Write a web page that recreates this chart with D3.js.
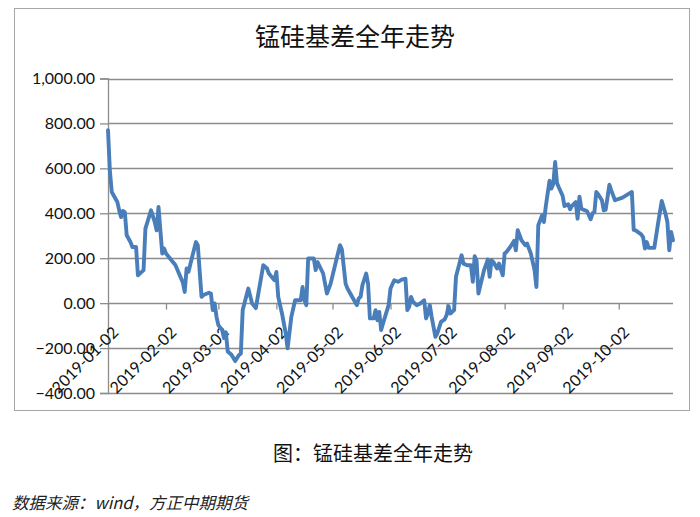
<!DOCTYPE html>
<html>
<head>
<meta charset="utf-8">
<script src="https://cdn.jsdelivr.net/npm/d3@7"></script>
<style>
  html, body { margin: 0; padding: 0; background: #fff; }
  svg { display: block; }
</style>
</head>
<body>
<svg id="chart" width="700" height="517"></svg>
<script>
// ---- data ----
const dates = [
  "2019-01-02","2019-01-03","2019-01-04","2019-01-07","2019-01-08","2019-01-09","2019-01-10","2019-01-11","2019-01-12","2019-01-14",
  "2019-01-15","2019-01-17","2019-01-18","2019-01-20","2019-01-21","2019-01-22","2019-01-25","2019-01-27","2019-01-28","2019-01-29",
  "2019-01-30","2019-01-31","2019-02-01","2019-02-02","2019-02-07","2019-02-11","2019-02-12","2019-02-13","2019-02-14","2019-02-16",
  "2019-02-18","2019-02-19","2019-02-21","2019-02-22","2019-02-25","2019-02-26","2019-02-27","2019-02-28","2019-03-01","2019-03-02",
  "2019-03-04","2019-03-05","2019-03-06","2019-03-07","2019-03-09","2019-03-11","2019-03-13","2019-03-14","2019-03-15","2019-03-18",
  "2019-03-20","2019-03-22","2019-03-26","2019-03-28","2019-03-29","2019-04-01","2019-04-02","2019-04-03","2019-04-05","2019-04-07",
  "2019-04-08","2019-04-10","2019-04-12","2019-04-15","2019-04-16","2019-04-17","2019-04-18","2019-04-19","2019-04-22","2019-04-23",
  "2019-04-24","2019-04-27","2019-04-29","2019-05-01","2019-05-04","2019-05-06","2019-05-07","2019-05-09","2019-05-10","2019-05-13",
  "2019-05-15","2019-05-16","2019-05-17","2019-05-18","2019-05-20","2019-05-21","2019-05-22","2019-05-24","2019-05-25","2019-05-26",
  "2019-05-27","2019-05-28","2019-05-29","2019-06-01","2019-06-02","2019-06-04","2019-06-06","2019-06-08","2019-06-10","2019-06-11",
  "2019-06-12","2019-06-13","2019-06-14","2019-06-16","2019-06-18","2019-06-20","2019-06-21","2019-06-22","2019-06-23","2019-06-24",
  "2019-06-26","2019-06-27","2019-06-29","2019-07-01","2019-07-02","2019-07-03","2019-07-04","2019-07-06","2019-07-07","2019-07-10",
  "2019-07-11","2019-07-13","2019-07-15","2019-07-16","2019-07-17","2019-07-18","2019-07-19","2019-07-22","2019-07-24","2019-07-25",
  "2019-07-26","2019-07-27","2019-07-29","2019-07-30","2019-08-01","2019-08-02","2019-08-03","2019-08-05","2019-08-07","2019-08-08",
  "2019-08-09","2019-08-11","2019-08-13","2019-08-14","2019-08-16","2019-08-18","2019-08-19","2019-08-20","2019-08-22","2019-08-23",
  "2019-08-24","2019-08-26","2019-08-27","2019-08-28","2019-08-29","2019-08-30","2019-08-31","2019-09-02","2019-09-03","2019-09-05",
  "2019-09-06","2019-09-07","2019-09-09","2019-09-10","2019-09-11","2019-09-12","2019-09-13","2019-09-15","2019-09-17","2019-09-18",
  "2019-09-19","2019-09-20","2019-09-21","2019-09-23","2019-09-24","2019-09-25","2019-09-27","2019-09-28","2019-09-30","2019-10-04",
  "2019-10-09","2019-10-10","2019-10-11","2019-10-14","2019-10-15","2019-10-16","2019-10-17","2019-10-18","2019-10-21","2019-10-23",
  "2019-10-25","2019-10-27","2019-10-28","2019-10-29","2019-10-30","2019-10-31"
];
const basis = [
  770,590,495,450,413,383,410,405,302,272,
  250,250,124,139,147,332,413,361,324,428,
  324,221,243,221,170,92,50,154,139,206,
  272,258,28,36,46,43,-31,-1,-61,-98,
  -120,-155,-130,-215,-230,-258,-231,-225,-31,65,
  -1,-22,169,154,132,102,139,28,-46,-135,
  -201,-61,13,13,72,13,-9,199,199,147,
  183,132,43,87,191,258,240,87,65,21,
  -9,21,28,80,132,87,-68,-68,-31,-76,
  -39,-120,-90,-9,65,102,95,105,109,-31,
  -16,28,6,-9,-1,13,-68,-46,-9,-61,
  -150,-135,-83,-72,-53,-13,-46,-31,117,213,
  176,169,169,95,209,190,43,147,194,117,
  191,183,154,176,124,221,228,250,277,235,
  325,280,258,265,221,147,72,347,390,361,
  430,545,510,530,628,535,515,478,432,440,
  418,433,450,376,474,421,416,410,374,400,
  405,495,485,458,413,416,527,502,458,470,
  495,326,324,306,294,243,272,246,246,354,
  455,398,361,235,317,280
];
const xTickLabels = ["2019-01-02","2019-02-02","2019-03-02","2019-04-02","2019-05-02","2019-06-02","2019-07-02","2019-08-02","2019-09-02","2019-10-02"];
const yTickValues = [-400,-200,0,200,400,600,800,1000];
const titleText = "锰硅基差全年走势";
const captionText = "图：锰硅基差全年走势";
const sourceText = "数据来源：wind，方正中期期货";

// ---- drawing ----
const parse = d3.timeParse("%Y-%m-%d");
const data = dates.map((d, i) => ({ date: parse(d), v: basis[i] }));

const svg = d3.select("#chart");
const plotL = 108, plotR = 673, plotT = 78.5, plotB = 393;

const x = d3.scaleTime()
  .domain([parse("2019-01-02"), parse("2019-10-31")])
  .range([plotL, plotR]);
const y = d3.scaleLinear().domain([-400, 1000]).range([plotB, plotT]);

// chart area border
svg.append("rect")
  .attr("x", 14.5).attr("y", 8.5).attr("width", 675).attr("height", 402)
  .attr("fill", "#fff").attr("stroke", "#a6a6a6").attr("stroke-width", 1);

// title
svg.append("text")
  .attr("x", 355).attr("y", 46)
  .attr("text-anchor", "middle")
  .attr("font-family", "Noto Sans CJK SC")
  .attr("font-size", 25)
  .attr("fill", "#111")
  .text(titleText);

// gridlines
svg.append("g")
  .selectAll("line")
  .data(yTickValues)
  .join("line")
  .attr("x1", plotL).attr("x2", plotR)
  .attr("y1", d => Math.round(y(d)) + 0.5).attr("y2", d => Math.round(y(d)) + 0.5)
  .attr("stroke", "#8c8c8c").attr("stroke-width", 1.3);

// y axis
const yAxis = svg.append("g")
  .attr("transform", `translate(${plotL},0)`)
  .call(d3.axisLeft(y).tickValues(yTickValues).tickFormat(d3.format(",.2f")).tickSize(8).tickPadding(5));
yAxis.select(".domain").attr("stroke", "#8c8c8c").attr("stroke-width", 1.3);
yAxis.selectAll(".tick line").attr("stroke", "#8c8c8c").attr("stroke-width", 1.3);
yAxis.selectAll("text")
  .attr("font-family", "Lato, 'Liberation Sans', sans-serif")
  .attr("font-size", 16)
  .attr("fill", "#111");

// x axis at zero
const xAxis = svg.append("g")
  .attr("transform", `translate(0,${Math.round(y(0)) + 0.5})`)
  .call(d3.axisBottom(x).tickValues(xTickLabels.map(parse)).tickFormat(d3.timeFormat("%Y-%m-%d")).tickSize(6));
xAxis.select(".domain").remove();
xAxis.selectAll(".tick line").attr("stroke", "#8c8c8c").attr("stroke-width", 1.3);
xAxis.selectAll("text")
  .attr("x", 0).attr("y", 0).attr("dy", 0)
  .attr("text-anchor", "end")
  .attr("transform", "translate(11,30) rotate(-45)")
  .attr("font-family", "Lato, 'Liberation Sans', sans-serif")
  .attr("font-size", 16)
  .attr("fill", "#111");

// series line
const line = d3.line().x(d => x(d.date)).y(d => y(d.v));
svg.append("path")
  .datum(data)
  .attr("d", line)
  .attr("fill", "none")
  .attr("stroke", "#4a7ebb")
  .attr("stroke-width", 3.9)
  .attr("stroke-linejoin", "round")
  .attr("stroke-linecap", "round");

// caption
svg.append("text")
  .attr("x", 373).attr("y", 461)
  .attr("text-anchor", "middle")
  .attr("font-family", "Noto Sans CJK SC")
  .attr("font-size", 20)
  .attr("fill", "#111")
  .text(captionText);

// source
svg.append("text")
  .attr("x", 12).attr("y", 509)
  .attr("font-family", "Noto Sans CJK SC")
  .attr("font-style", "italic")
  .attr("font-size", 16.5)
  .attr("fill", "#222")
  .text(sourceText);
</script>
</body>
</html>
